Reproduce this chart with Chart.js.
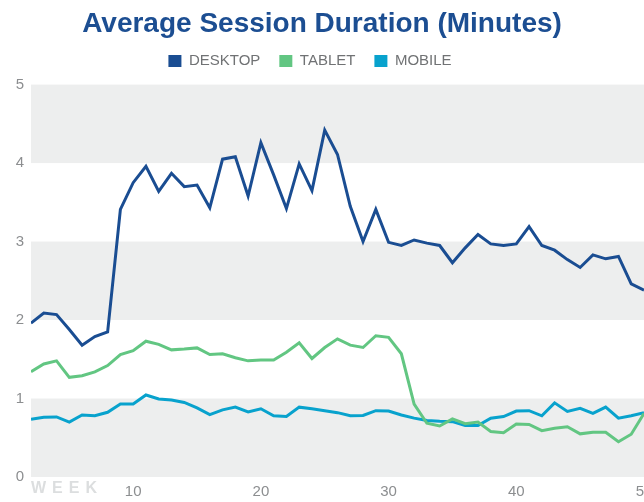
<!DOCTYPE html>
<html>
<head>
<meta charset="utf-8">
<title>Average Session Duration</title>
<script src="https://cdn.jsdelivr.net/npm/chart.js@4.4.1/dist/chart.umd.min.js"></script>
<style>
    html, body { margin: 0; padding: 0; background: #fff; overflow: hidden; }
    #caixa { width: 644px; height: 502px; position: relative; }
</style>
</head>
<body>
<div id="caixa"><canvas id="graficoSessao"></canvas></div>
<script>
// Semanas (eixo x) e marcas mostradas
const semanas = [2, 3, 4, 5, 6, 7, 8, 9, 10, 11, 12, 13, 14, 15, 16, 17, 18, 19, 20, 21, 22, 23, 24, 25, 26,
    27, 28, 29, 30, 31, 32, 33, 34, 35, 36, 37, 38, 39, 40, 41, 42, 43, 44, 45, 46, 47, 48, 49, 50];
const marcasSemana = [10, 20, 30, 40, 50];
const marcasMinutos = [0, 1, 2, 3, 4, 5];

// Duração média (minutos) por dispositivo
const desktop = [1.96, 2.09, 2.07, 1.88, 1.68, 1.79, 1.85, 3.41, 3.75, 3.96, 3.64, 3.87, 3.70, 3.72, 3.43, 4.05,
    4.08, 3.58, 4.26, 3.85, 3.42, 3.99, 3.65, 4.42, 4.11, 3.45, 3.00, 3.41, 2.99, 2.95, 3.02, 2.98, 2.95,
    2.73, 2.92, 3.09, 2.97, 2.95, 2.97, 3.19, 2.95, 2.89, 2.77, 2.67, 2.83, 2.78, 2.81, 2.46, 2.38];
const tablet = [1.34, 1.44, 1.48, 1.27, 1.29, 1.34, 1.42, 1.56, 1.61, 1.73, 1.69, 1.62, 1.63, 1.645, 1.56, 1.57,
    1.52, 1.48, 1.49, 1.49, 1.59, 1.71, 1.51, 1.65, 1.76, 1.68, 1.65, 1.80, 1.78, 1.57, 0.93, 0.685, 0.65,
    0.74, 0.68, 0.70, 0.58, 0.565, 0.675, 0.67, 0.59, 0.62, 0.64, 0.55, 0.57, 0.57, 0.45, 0.545, 0.81];
const mobile = [0.735, 0.76, 0.765, 0.70, 0.79, 0.78, 0.825, 0.93, 0.93, 1.045, 0.995, 0.98, 0.95, 0.88, 0.795,
    0.855, 0.89, 0.83, 0.87, 0.78, 0.77, 0.89, 0.87, 0.845, 0.82, 0.78, 0.785, 0.845, 0.84, 0.79, 0.75,
    0.72, 0.71, 0.705, 0.655, 0.655, 0.75, 0.77, 0.84, 0.845, 0.78, 0.945, 0.835, 0.875, 0.81, 0.89, 0.75,
    0.78, 0.82];

// Faixas cinzas do fundo (em minutos)
const faixasCinza = [[0, 1], [2, 3], [4, 5]];

const fonte = '"Liberation Sans", Arial, Helvetica, sans-serif';

function pontos(valores) {
    return semanas.map((s, i) => ({ x: s, y: valores[i] }));
}

function serie(nome, valores, cor) {
    return {
        label: nome,
        data: pontos(valores),
        borderColor: cor,
        backgroundColor: cor,
        borderWidth: 3,
        pointRadius: 0,
        tension: 0
    };
}

// Desenha as faixas cinzas atrás das linhas
const pluginFaixas = {
    id: 'faixas',
    beforeDatasetsDraw(chart) {
        const { ctx, chartArea, scales } = chart;
        ctx.save();
        ctx.fillStyle = '#edeeee';
        faixasCinza.forEach(([de, ate]) => {
            const topo = scales.y.getPixelForValue(ate);
            const base = scales.y.getPixelForValue(de);
            ctx.fillRect(chartArea.left, topo, chartArea.right - chartArea.left, base - topo);
        });
        ctx.restore();
    }
};

// Texto "WEEK" no canto do eixo x
const pluginSemana = {
    id: 'rotuloSemana',
    afterDraw(chart) {
        const { ctx, chartArea } = chart;
        ctx.save();
        ctx.font = 'bold 16px ' + fonte;
        ctx.fillStyle = '#dcdedf';
        ctx.letterSpacing = '6px';
        ctx.textBaseline = 'top';
        ctx.textAlign = 'left';
        ctx.fillText('WEEK', chartArea.left, chartArea.bottom + 4);
        ctx.restore();
    }
};

// Um pouco mais de espaço abaixo da legenda, e legenda um pouco à esquerda
const pluginLegenda = {
    id: 'ajusteLegenda',
    afterInit(chart) {
        const fitOriginal = chart.legend.fit;
        chart.legend.fit = function () {
            fitOriginal.call(this);
            this.height += 6;
        };
    },
    afterLayout(chart) {
        chart.legend.left -= 12;
        chart.legend.right -= 12;
    }
};

const ctx = document.getElementById('graficoSessao').getContext('2d');

new Chart(ctx, {
    type: 'line',
    data: {
        datasets: [
            serie('DESKTOP', desktop, '#1a4d92'),
            serie('TABLET', tablet, '#62c682'),
            serie('MOBILE', mobile, '#08a2cd')
        ]
    },
    options: {
        responsive: true,
        maintainAspectRatio: false,
        animation: false,
        layout: { padding: 0 },
        plugins: {
            title: {
                display: true,
                text: 'Average Session Duration (Minutes)',
                color: '#1c4e92',
                font: { family: fonte, size: 28, weight: 'bold' },
                padding: { top: 7, bottom: -6 }
            },
            legend: {
                display: true,
                labels: {
                    boxWidth: 13,
                    boxHeight: 12,
                    padding: 19,
                    color: '#707274',
                    font: { family: fonte, size: 15 },
                    generateLabels(chart) {
                        const itens = Chart.defaults.plugins.legend.labels.generateLabels(chart);
                        itens.forEach(item => { item.lineWidth = 0; });
                        return itens;
                    }
                }
            },
            tooltip: { enabled: false }
        },
        scales: {
            x: {
                type: 'linear',
                min: semanas[0],
                max: semanas[semanas.length - 1],
                grid: { display: false, drawTicks: false },
                border: { display: false },
                ticks: {
                    color: '#8c8e90',
                    font: { family: fonte, size: 15 },
                    padding: 6,
                    maxRotation: 0,
                    autoSkip: false
                },
                afterBuildTicks(escala) {
                    escala.ticks = marcasSemana.map(v => ({ value: v }));
                },
                afterFit(escala) {
                    escala.height = 25;
                    escala.paddingLeft = 0;
                    escala.paddingRight = 0;
                }
            },
            y: {
                min: marcasMinutos[0],
                max: marcasMinutos[marcasMinutos.length - 1],
                grid: { display: false, drawTicks: false },
                border: { display: false },
                ticks: {
                    stepSize: 1,
                    color: '#8c8e90',
                    font: { family: fonte, size: 15 },
                    padding: 7
                },
                afterBuildTicks(escala) {
                    escala.ticks = marcasMinutos.map(v => ({ value: v }));
                },
                afterFit(escala) {
                    escala.width = 31;
                }
            }
        }
    },
    plugins: [pluginFaixas, pluginSemana, pluginLegenda]
});
</script>
</body>
</html>
